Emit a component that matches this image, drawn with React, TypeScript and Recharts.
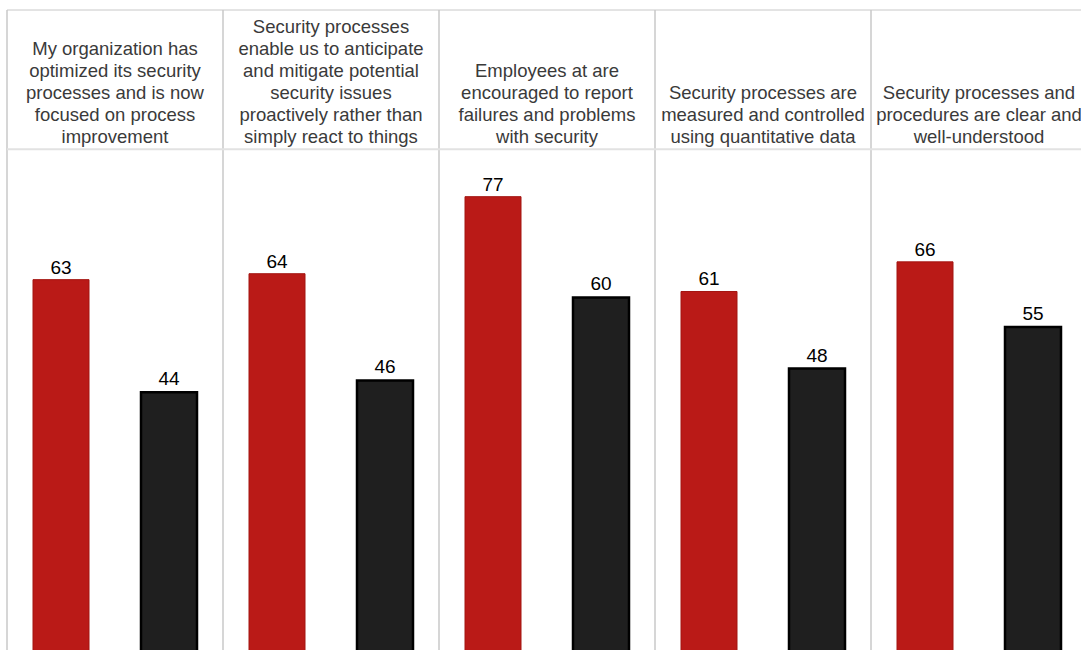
import { BarChart, Bar, XAxis, YAxis, CartesianGrid, ReferenceLine, LabelList } from "recharts";

const categories = [
  "My organization has\noptimized its security\nprocesses and is now\nfocused on process\nimprovement",
  "Security processes\nenable us to anticipate\nand mitigate potential\nsecurity issues\nproactively rather than\nsimply react to things",
  "Employees at are\nencouraged to report\nfailures and problems\nwith security",
  "Security processes are\nmeasured and controlled\nusing quantitative data",
  "Security processes and\nprocedures are clear and\nwell-understood",
];
const redValues = [63, 64, 77, 61, 66];
const blackValues = [44, 46, 60, 48, 55];

const data = categories.map((name, i) => ({
  name,
  red: redValues[i],
  black: blackValues[i],
}));

const FONT = "'Liberation Sans', Arial, sans-serif";

function HeaderTick(props: any) {
  const { x, y, payload } = props;
  const lines: string[] = String(payload.value).split("\n");
  const last = y + 133;
  return (
    <g>
      {lines.map((line, i) => (
        <text
          key={i}
          x={x}
          y={last - 22 * (lines.length - 1 - i)}
          textAnchor="middle"
          fontSize={18.5}
          fontFamily={FONT}
          fill="#3a3a3a"
        >
          {line}
        </text>
      ))}
    </g>
  );
}

export default function App() {
  return (
    <div
      style={{
        position: "fixed",
        top: 0,
        left: 0,
        width: 1081,
        height: 650,
        overflow: "hidden",
        background: "#fff",
      }}
    >
      <BarChart
        width={1100}
        height={660}
        data={data}
        margin={{ top: 9, right: 13, left: 7, bottom: 7 }}
        barSize={56}
        barGap={52}
      >
        <CartesianGrid
          horizontal={false}
          stroke="#d6d6d6"
          strokeWidth={2}
          verticalCoordinatesGenerator={({ offset }: any) =>
            categories.map((_, i) => offset.left + (i * offset.width) / categories.length)
          }
        />
        <XAxis
          dataKey="name"
          orientation="top"
          height={1}
          interval={0}
          tickLine={false}
          tickSize={0}
          tickMargin={0}
          axisLine={{ stroke: "#c8c8c8" }}
          tick={<HeaderTick />}
        />
        <YAxis hide domain={[0, 108.5]} />
        <ReferenceLine y={85} stroke="#e2e2e2" strokeWidth={2} />
        <Bar dataKey="red" fill="#BA1A17" stroke="#A31410" strokeWidth={1} isAnimationActive={false}>
          <LabelList dataKey="red" position="top" offset={6} fontSize={19} fontFamily={FONT} fill="#000" />
        </Bar>
        <Bar dataKey="black" fill="#1F1F1F" stroke="#000" strokeWidth={2.5} isAnimationActive={false}>
          <LabelList dataKey="black" position="top" offset={7} fontSize={19} fontFamily={FONT} fill="#000" />
        </Bar>
      </BarChart>
    </div>
  );
}
